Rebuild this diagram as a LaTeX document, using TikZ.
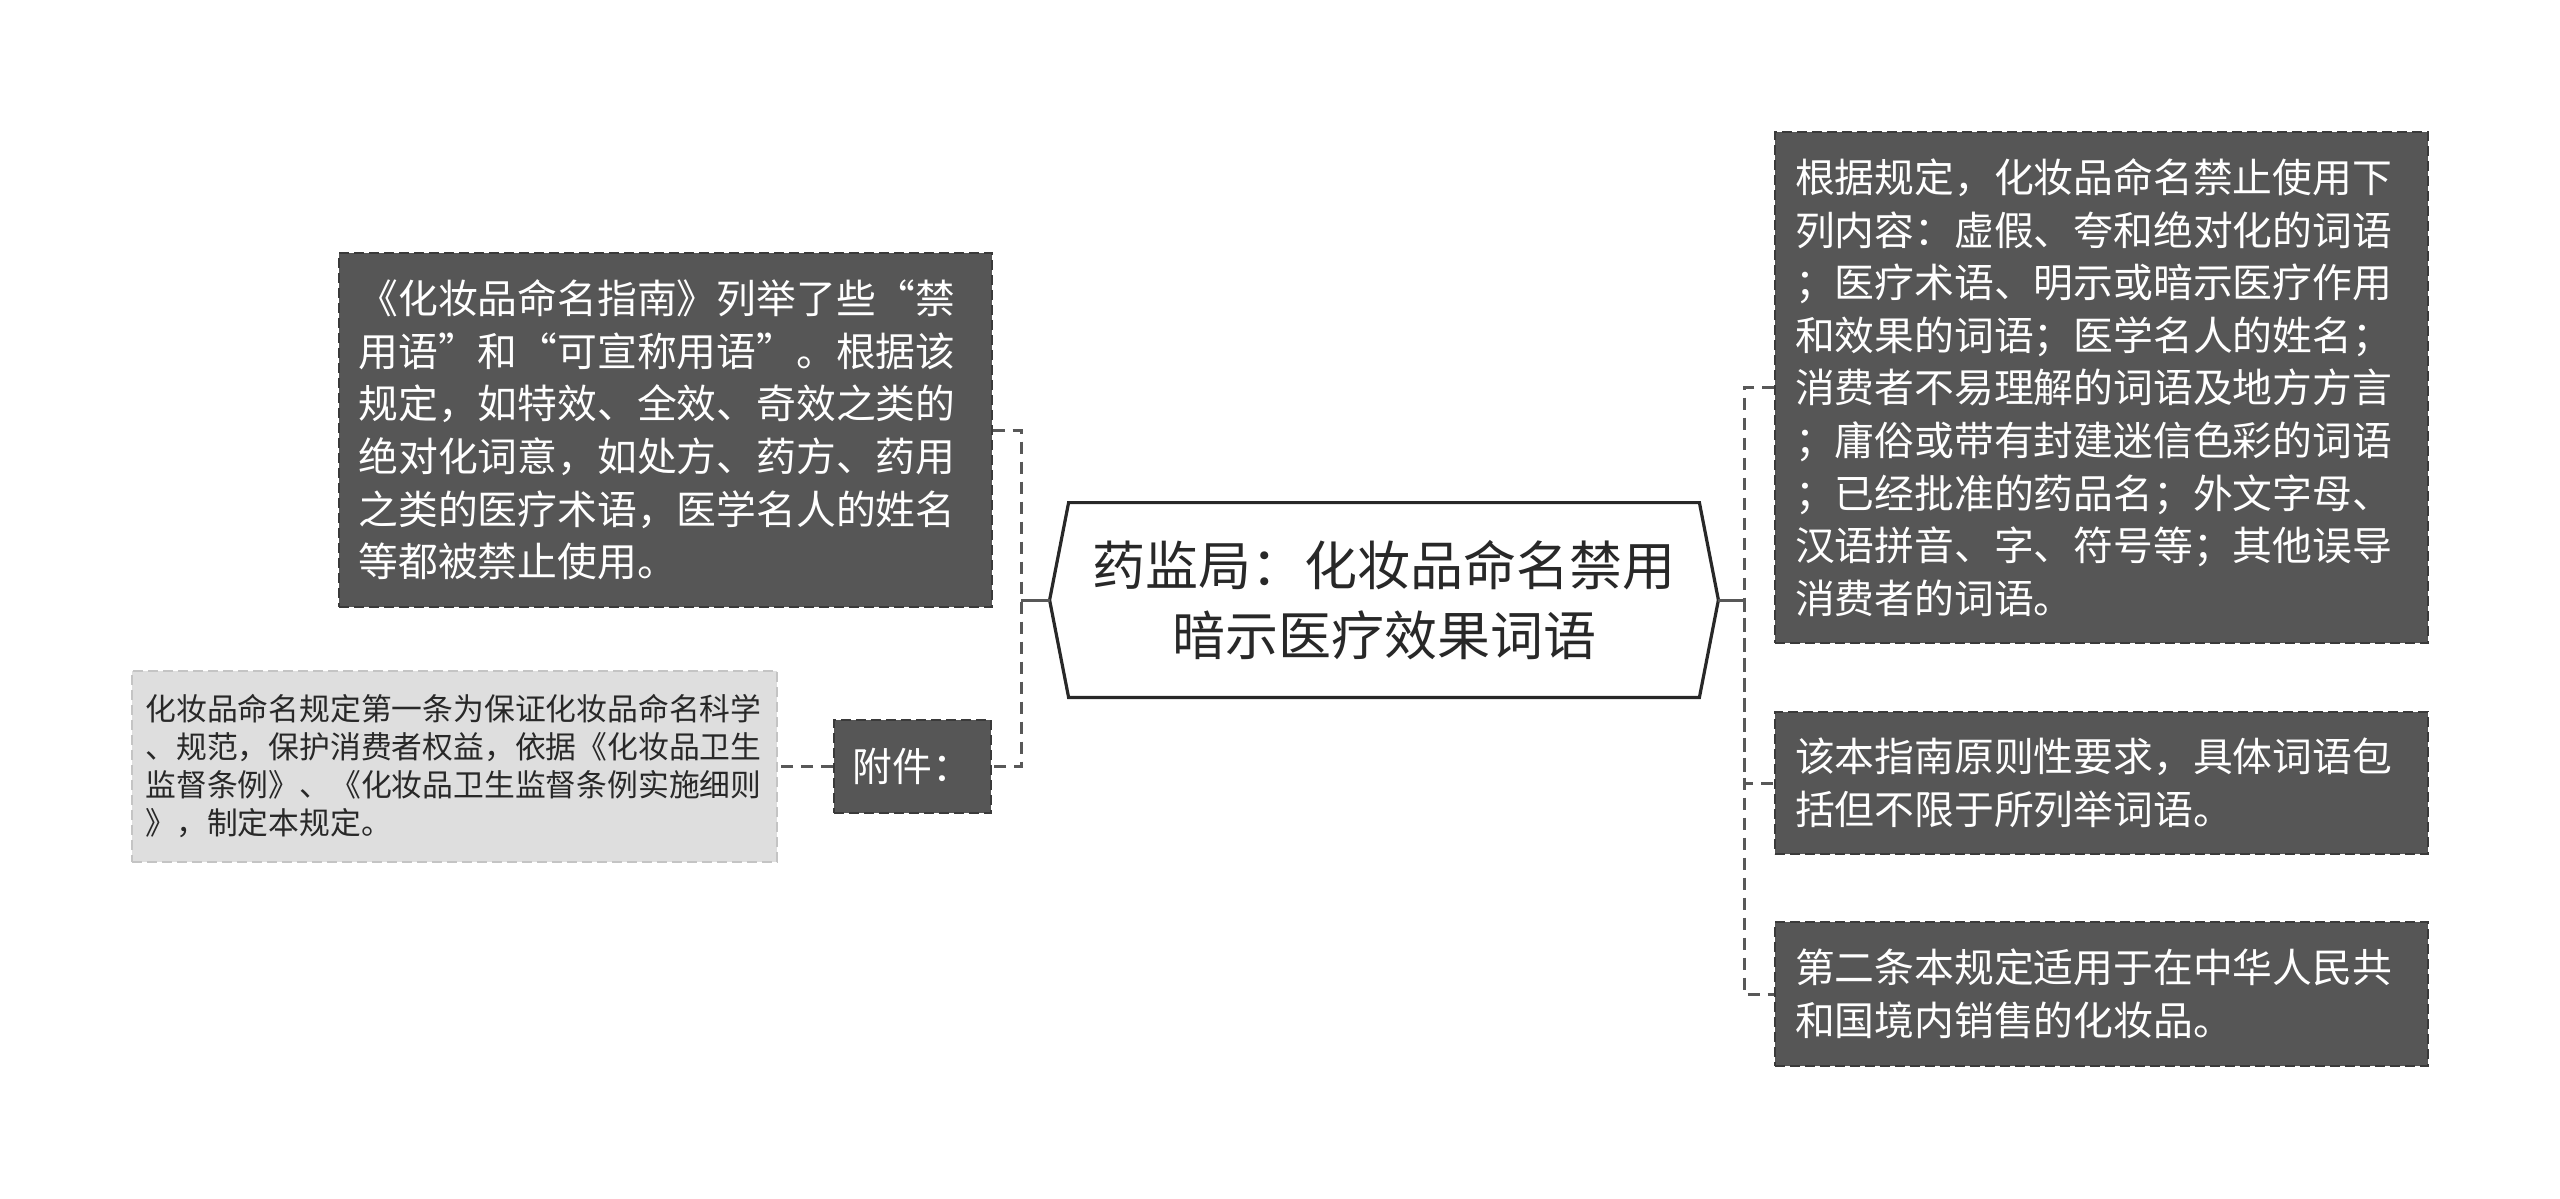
\documentclass[tikz,border=0pt]{standalone}
\usepackage{fontspec}
\setmainfont{Noto Sans CJK SC}
\definecolor{boxfill}{RGB}{86,86,86}
\definecolor{boxline}{RGB}{58,58,58}
\definecolor{notefill}{RGB}{222,222,222}
\definecolor{noteline}{RGB}{196,196,196}
\definecolor{linkgray}{RGB}{88,88,88}
\definecolor{textdark}{RGB}{40,40,40}

\begin{document}
\begin{tikzpicture}[x=0.5pt,y=0.5pt,yscale=-1,
  darkbox/.style={draw=boxline,line width=1pt,dash pattern=on 5pt off 2.5pt,fill=boxfill,text=white,
    font=\fontsize{19.9}{26.3}\selectfont,align=left,inner ysep=0pt},
  notebox/.style={draw=noteline,line width=1pt,dash pattern=on 5pt off 2.5pt,fill=notefill,text=textdark,
    font=\fontsize{15.4}{19}\selectfont,align=left,inner ysep=0pt},
  rootline/.style={draw=textdark,line width=1.6pt,fill=white},
  link/.style={draw=linkgray,line width=1.5pt,dash pattern=on 6pt off 4pt},
  stub/.style={draw=linkgray,line width=1.5pt}]

\fill[white] (0,0) rectangle (2560,1199);
\useasboundingbox (0,0) rectangle (2560,1199);

%Shape: Hexagon (root)
\node (root) [inner sep=0pt,minimum width=334pt,minimum height=97pt] at (1384,600) {};
\draw[rootline] ([xshift=9.5pt]root.north west) -- ([xshift=-9.5pt]root.north east) -- (root.east)
  -- ([xshift=-9.5pt]root.south east) -- ([xshift=9.5pt]root.south west) -- (root.west) -- cycle;
\node [text=textdark,font=\fontsize{26.5}{35}\selectfont,align=center] at (root.center)
  {药监局：化妆品命名禁用\\暗示医疗效果词语};

% Left branch
\node (guide) [darkbox,text width=306.5pt,inner xsep=10pt,minimum height=177pt] at (665,430)
  {《化妆品命名指南》列举了些“禁\\用语”和“可宣称用语”。根据该\\规定，如特效、全效、奇效之类的\\绝对化词意，如处方、药方、药用\\之类的医疗术语，医学名人的姓名\\等都被禁止使用。};
\node (annex) [darkbox,inner xsep=9pt,minimum width=78.5pt,minimum height=46.5pt] at (912.5,766.5) {附件：};
\node (annexnote) [notebox,text width=309pt,inner xsep=6.75pt,minimum height=95.5pt] at (454.5,766.5)
  {化妆品命名规定第一条为保证化妆品命名科学\\、规范，保护消费者权益，依据《化妆品卫生\\监督条例》、《化妆品卫生监督条例实施细则\\》，制定本规定。};

% Right branch
\node (banlist) [darkbox,text width=306.5pt,inner xsep=10pt,minimum height=255.5pt] at (2101.5,387.5)
  {根据规定，化妆品命名禁止使用下\\列内容：虚假、夸和绝对化的词语\\；医疗术语、明示或暗示医疗作用\\和效果的词语；医学名人的姓名；\\消费者不易理解的词语及地方方言\\；庸俗或带有封建迷信色彩的词语\\；已经批准的药品名；外文字母、\\汉语拼音、字、符号等；其他误导\\消费者的词语。};
\node (principle) [darkbox,text width=306.5pt,inner xsep=10pt,minimum height=71pt] at (2101.5,783)
  {该本指南原则性要求，具体词语包\\括但不限于所列举词语。};
\node (applies) [darkbox,text width=306.5pt,inner xsep=10pt,minimum height=72pt] at (2101.5,994)
  {第二条本规定适用于在中华人民共\\和国境内销售的化妆品。};

% Connectors
\coordinate (lhub) at (1021,600);
\coordinate (rhub) at (1744,600);
\draw[stub] (root.west) -- (lhub);
\draw[link] (guide.east) -| (lhub) |- (annex.east);
\draw[link] (annex.west) -- (annexnote.east);
\draw[stub] (root.east) -- (rhub);
\draw[link] (banlist.west) -| (rhub) |- (applies.west);
\draw[link] (rhub) |- (principle.west);

\end{tikzpicture}
\end{document}
